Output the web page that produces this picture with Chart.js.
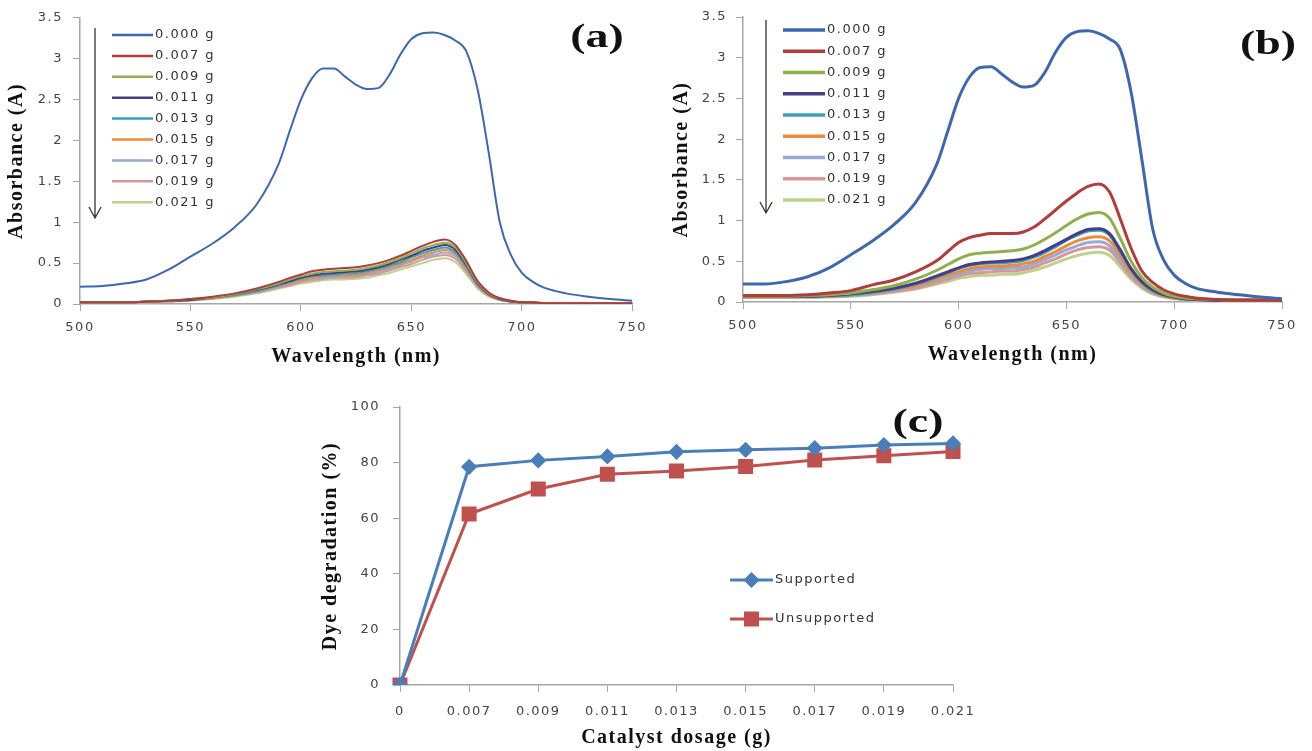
<!DOCTYPE html>
<html>
<head>
<meta charset="utf-8">
<script src="https://cdn.jsdelivr.net/npm/chart.js@4.4.1/dist/chart.umd.min.js"></script>
<style>
  body { margin: 0; background: #fff; width: 1312px; height: 751px; overflow: hidden; position: relative; }
  canvas { position: absolute; }
</style>
</head>
<body>
<canvas id="chartA" width="656" height="380" style="left:0;top:0"></canvas>
<canvas id="chartB" width="656" height="380" style="left:656px;top:0"></canvas>
<canvas id="chartC" width="700" height="371" style="left:310px;top:380px"></canvas>
<script>
// ---- data ----
var wavelengths = [500,510,520,530,540,550,560,570,580,590,595,600,605,610,615,620,625,630,635,640,645,650,655,660,665,670,675,680,685,690,695,700,705,710,720,730,740,750];
var doseLabels = ['0.000 g','0.007 g','0.009 g','0.011 g','0.013 g','0.015 g','0.017 g','0.019 g','0.021 g'];
var doseColors = ['#3d68b0','#b23b3b','#8fb04c','#463d86','#3aa1b8','#f08a34','#97a9d8','#d99696','#bfd28c'];

// panel (a)
var a000 = [0.21,0.22,0.25,0.30,0.42,0.58,0.74,0.94,1.22,1.72,2.12,2.50,2.76,2.88,2.88,2.78,2.68,2.63,2.64,2.80,3.05,3.24,3.31,3.32,3.29,3.22,3.08,2.62,1.85,1.00,0.60,0.38,0.27,0.20,0.13,0.09,0.06,0.04];
var a007 = [0.02,0.02,0.02,0.03,0.04,0.06,0.09,0.13,0.19,0.27,0.32,0.36,0.40,0.42,0.43,0.44,0.45,0.47,0.50,0.54,0.59,0.65,0.71,0.76,0.79,0.72,0.52,0.28,0.14,0.07,0.04,0.02,0.02,0.01,0.01,0.01,0.01,0.01];
var a009 = [0.02,0.02,0.02,0.03,0.04,0.06,0.08,0.12,0.18,0.25,0.30,0.34,0.37,0.39,0.40,0.41,0.42,0.44,0.47,0.51,0.56,0.62,0.68,0.72,0.75,0.69,0.49,0.26,0.13,0.07,0.04,0.02,0.02,0.01,0.01,0.01,0.01,0.01];
var a011 = [0.02,0.02,0.02,0.03,0.04,0.05,0.08,0.12,0.17,0.24,0.28,0.32,0.35,0.37,0.38,0.39,0.40,0.42,0.45,0.49,0.54,0.59,0.65,0.69,0.72,0.66,0.47,0.25,0.12,0.06,0.03,0.02,0.02,0.01,0.01,0.01,0.01,0.01];
var a013 = [0.02,0.02,0.02,0.03,0.04,0.05,0.08,0.11,0.16,0.23,0.27,0.31,0.34,0.35,0.36,0.37,0.38,0.40,0.43,0.47,0.51,0.57,0.62,0.66,0.69,0.63,0.45,0.24,0.12,0.06,0.03,0.02,0.01,0.01,0.01,0.01,0.01,0.01];
var a015 = [0.02,0.02,0.02,0.03,0.04,0.05,0.07,0.11,0.16,0.22,0.26,0.29,0.32,0.34,0.35,0.35,0.36,0.38,0.41,0.45,0.49,0.54,0.59,0.63,0.66,0.61,0.43,0.23,0.11,0.06,0.03,0.02,0.01,0.01,0.01,0.01,0.01,0.01];
var a017 = [0.02,0.02,0.02,0.03,0.03,0.05,0.07,0.10,0.15,0.21,0.25,0.28,0.31,0.32,0.33,0.34,0.35,0.36,0.39,0.43,0.47,0.52,0.57,0.60,0.63,0.58,0.41,0.22,0.11,0.05,0.03,0.02,0.01,0.01,0.01,0.01,0.01,0.01];
var a019 = [0.02,0.02,0.02,0.02,0.03,0.05,0.07,0.10,0.14,0.20,0.23,0.27,0.29,0.31,0.32,0.32,0.33,0.35,0.37,0.41,0.45,0.49,0.54,0.58,0.60,0.55,0.39,0.21,0.10,0.05,0.03,0.02,0.01,0.01,0.01,0.01,0.01,0.01];
var a021 = [0.02,0.02,0.02,0.02,0.03,0.04,0.06,0.09,0.13,0.19,0.22,0.25,0.27,0.29,0.30,0.30,0.31,0.32,0.35,0.38,0.42,0.46,0.50,0.54,0.56,0.51,0.36,0.19,0.09,0.05,0.03,0.02,0.01,0.01,0.01,0.01,0.01,0.01];

// panel (b)
var b000 = [0.22,0.22,0.25,0.31,0.42,0.58,0.75,0.95,1.22,1.70,2.10,2.50,2.76,2.88,2.89,2.80,2.70,2.64,2.66,2.82,3.07,3.25,3.32,3.33,3.30,3.23,3.10,2.58,1.75,0.90,0.52,0.33,0.23,0.17,0.12,0.09,0.06,0.04];
var b007 = [0.08,0.08,0.08,0.09,0.11,0.14,0.21,0.27,0.37,0.51,0.62,0.73,0.79,0.82,0.84,0.84,0.84,0.86,0.92,1.02,1.13,1.24,1.34,1.42,1.45,1.35,1.02,0.66,0.38,0.24,0.15,0.10,0.07,0.05,0.03,0.02,0.02,0.02];
var b009 = [0.07,0.07,0.07,0.08,0.09,0.11,0.15,0.20,0.28,0.39,0.46,0.53,0.58,0.60,0.61,0.62,0.63,0.65,0.70,0.77,0.85,0.94,1.02,1.08,1.10,1.03,0.78,0.50,0.30,0.18,0.11,0.07,0.05,0.04,0.03,0.02,0.02,0.02];
var b011 = [0.07,0.07,0.07,0.07,0.08,0.10,0.13,0.17,0.23,0.32,0.37,0.42,0.46,0.48,0.49,0.50,0.51,0.53,0.57,0.63,0.70,0.77,0.84,0.89,0.90,0.84,0.64,0.41,0.25,0.15,0.09,0.06,0.04,0.03,0.02,0.02,0.02,0.02];
var b013 = [0.07,0.07,0.07,0.07,0.08,0.09,0.12,0.16,0.22,0.31,0.36,0.41,0.45,0.47,0.48,0.48,0.49,0.51,0.55,0.61,0.68,0.76,0.82,0.87,0.88,0.82,0.62,0.40,0.24,0.14,0.09,0.06,0.04,0.03,0.02,0.02,0.02,0.02];
var b015 = [0.06,0.06,0.06,0.07,0.07,0.09,0.11,0.15,0.20,0.28,0.33,0.37,0.41,0.43,0.44,0.44,0.45,0.47,0.50,0.56,0.62,0.69,0.75,0.79,0.80,0.75,0.57,0.36,0.22,0.13,0.08,0.05,0.04,0.03,0.02,0.02,0.02,0.02];
var b017 = [0.06,0.06,0.06,0.06,0.07,0.08,0.10,0.14,0.19,0.26,0.30,0.34,0.38,0.40,0.41,0.41,0.42,0.43,0.47,0.52,0.58,0.64,0.69,0.73,0.74,0.69,0.52,0.33,0.20,0.12,0.07,0.05,0.04,0.03,0.02,0.02,0.02,0.02];
var b019 = [0.06,0.06,0.06,0.06,0.07,0.08,0.10,0.13,0.17,0.24,0.28,0.32,0.35,0.36,0.37,0.38,0.38,0.40,0.43,0.48,0.53,0.59,0.64,0.67,0.68,0.64,0.48,0.31,0.19,0.11,0.07,0.05,0.03,0.03,0.02,0.02,0.02,0.02];
var b021 = [0.06,0.06,0.06,0.06,0.06,0.07,0.09,0.12,0.16,0.22,0.25,0.29,0.31,0.33,0.33,0.34,0.34,0.36,0.39,0.43,0.48,0.53,0.57,0.60,0.61,0.57,0.43,0.28,0.17,0.10,0.06,0.04,0.03,0.02,0.02,0.02,0.02,0.02];

// panel (c)
var dosages = ['0','0.007','0.009','0.011','0.013','0.015','0.017','0.019','0.021'];
var supported = [0, 78.5, 80.8, 82.2, 83.9, 84.6, 85.2, 86.3, 86.9];
var unsupported = [0, 61.5, 70.5, 75.8, 77.0, 78.6, 80.9, 82.5, 84.0];

Chart.defaults.font.family = '"DejaVu Sans", Verdana, sans-serif';
Chart.defaults.animation = false;

// the original text is drawn wide, so space the letters out a bit
var wideText = {
    id: 'wideText',
    beforeUpdate: function (chart) { chart.ctx.letterSpacing = '1.5px'; },
    beforeDraw: function (chart) { chart.ctx.letterSpacing = '1.5px'; }
};

// hand-placed legend, panel letter and arrow
var panelMarks = {
    id: 'panelMarks',
    afterDraw: function (chart, args, opts) {
        var ctx = chart.ctx;
        var lg = opts.legend;
        chart.data.datasets.forEach(function (ds, i) {
            var y = lg.y + i * lg.step;
            ctx.save();
            ctx.strokeStyle = ds.borderColor;
            ctx.lineWidth = lg.lineWidth;
            ctx.beginPath();
            ctx.moveTo(lg.x, y);
            ctx.lineTo(lg.x + lg.len, y);
            ctx.stroke();
            if (lg.markers) {
                ctx.fillStyle = ds.pointBackgroundColor;
                ctx.strokeStyle = ds.pointBorderColor;
                Chart.helpers.drawPoint(ctx, { pointStyle: ds.pointStyle, radius: ds.pointRadius, rotation: 0, borderWidth: 1 }, lg.x + lg.len / 2, y);
            }
            ctx.fillStyle = '#333';
            ctx.font = '13px "DejaVu Sans"';
            ctx.textAlign = 'left';
            ctx.textBaseline = 'middle';
            ctx.fillText(ds.label, lg.x + lg.len + 2, y);
            ctx.restore();
        });

        // panel letter, stretched like the original
        ctx.save();
        ctx.letterSpacing = '0px';
        ctx.translate(opts.tag.x, opts.tag.y);
        ctx.scale(1.35, 1);
        ctx.font = 'bold 34px "Liberation Serif"';
        ctx.fillStyle = '#111';
        ctx.textAlign = 'center';
        ctx.textBaseline = 'middle';
        ctx.fillText(opts.tag.text, 0, 0);
        ctx.restore();

        if (opts.arrow) {
            var ar = opts.arrow;
            ctx.save();
            ctx.strokeStyle = '#333';
            ctx.lineWidth = 1.3;
            ctx.beginPath();
            ctx.moveTo(ar.x, ar.y0);
            ctx.lineTo(ar.x, ar.y1);
            ctx.moveTo(ar.x - 6, ar.y1 - 11);
            ctx.lineTo(ar.x, ar.y1);
            ctx.lineTo(ar.x + 6, ar.y1 - 11);
            ctx.stroke();
            ctx.restore();
        }
    }
};

var axisColor = '#a6a6a6';
var tickFont = { size: 13 };
var titleFont = { family: '"Liberation Serif"', size: 20, weight: 'bold' };

function spectraDatasets(series, width) {
    return series.map(function (vals, i) {
        return {
            label: doseLabels[i],
            data: wavelengths.map(function (w, j) { return { x: w, y: vals[j] }; }),
            borderColor: doseColors[i],
            backgroundColor: doseColors[i],
            borderWidth: width,
            pointRadius: 0,
            cubicInterpolationMode: 'monotone'
        };
    });
}

function spectraOptions(box) {
    return {
        responsive: false,
        layout: { padding: { top: box.top, right: box.right, left: 0, bottom: 0 } },
        plugins: {
            legend: { display: false },
            tooltip: { enabled: false },
            panelMarks: box.marks
        },
        scales: {
            x: {
                type: 'linear', min: 500, max: 750,
                ticks: { stepSize: 50, color: '#444', font: tickFont, padding: 9, maxRotation: 0 },
                grid: { drawOnChartArea: false, tickLength: 7, color: axisColor },
                border: { color: axisColor, width: 1.5 },
                title: { display: true, text: 'Wavelength (nm)', color: '#111', font: titleFont, padding: { top: 0, bottom: box.xTitlePad } },
                afterFit: function (s) { s.height = box.xHeight; }
            },
            y: {
                min: 0, max: 3.5,
                ticks: {
                    stepSize: 0.5, color: '#444', font: tickFont, padding: box.yTickPad,
                    callback: function (v) { return String(v); }
                },
                grid: { drawOnChartArea: false, tickLength: 7, color: axisColor },
                border: { color: axisColor, width: 1.5 },
                title: { display: true, text: 'Absorbance (A)', color: '#111', font: titleFont, padding: { top: box.yTitlePad, bottom: 0 } },
                afterFit: function (s) { s.width = box.yWidth; }
            }
        }
    };
}

new Chart(document.getElementById('chartA').getContext('2d'), {
    type: 'line',
    data: { datasets: spectraDatasets([a000, a007, a009, a011, a013, a015, a017, a019, a021], 2) },
    options: spectraOptions({
        top: 16, right: 23, xHeight: 76, yWidth: 80, xTitlePad: 11, yTitlePad: 5, yTickPad: 10,
        marks: {
            legend: { x: 112, y: 35, step: 20.9, len: 41, lineWidth: 2.5 },
            tag: { text: '(a)', x: 597, y: 38 },
            arrow: { x: 95, y0: 28, y1: 218 }
        }
    }),
    plugins: [wideText, panelMarks]
});

new Chart(document.getElementById('chartB').getContext('2d'), {
    type: 'line',
    data: { datasets: spectraDatasets([b000, b007, b009, b011, b013, b015, b017, b019, b021], 3) },
    options: spectraOptions({
        top: 17, right: 30, xHeight: 78, yWidth: 87, xTitlePad: 13, yTitlePad: 14, yTickPad: 9,
        marks: {
            legend: { x: 127, y: 30, step: 21.25, len: 42, lineWidth: 3.5 },
            tag: { text: '(b)', x: 612, y: 45 },
            arrow: { x: 110, y0: 20, y1: 213 }
        }
    }),
    plugins: [wideText, panelMarks]
});

new Chart(document.getElementById('chartC').getContext('2d'), {
    type: 'line',
    data: {
        labels: dosages,
        datasets: [{
            label: 'Supported',
            data: supported,
            borderColor: '#4a7ebb',
            borderWidth: 3,
            pointStyle: 'rectRot',
            pointRadius: 6,
            pointBackgroundColor: '#4a7ebb',
            pointBorderColor: '#4a7ebb',
            tension: 0
        }, {
            label: 'Unsupported',
            data: unsupported,
            borderColor: '#c0504d',
            borderWidth: 3,
            pointStyle: 'rect',
            pointRadius: 8.5,
            pointBackgroundColor: '#c0504d',
            pointBorderColor: '#c0504d',
            tension: 0
        }]
    },
    options: {
        responsive: false,
        layout: { padding: { top: 27, right: 57, left: 0, bottom: 0 } },
        plugins: {
            legend: { display: false },
            tooltip: { enabled: false },
            panelMarks: {
                legend: { x: 420, y: 200, step: 39, len: 43, lineWidth: 3, markers: true },
                tag: { text: '(c)', x: 608, y: 43 }
            }
        },
        scales: {
            x: {
                offset: false,
                ticks: { color: '#444', font: tickFont, padding: 12, maxRotation: 0, autoSkip: false },
                grid: { drawOnChartArea: false, tickLength: 7, color: axisColor, offset: false },
                border: { color: axisColor, width: 1.5 },
                title: { display: true, text: 'Catalyst dosage (g)', color: '#111', font: titleFont, padding: { top: 0, bottom: 1 } },
                afterFit: function (s) { s.height = 66; }
            },
            y: {
                min: 0, max: 100,
                ticks: { stepSize: 20, color: '#444', font: tickFont, padding: 13 },
                grid: { drawOnChartArea: false, tickLength: 7, color: axisColor },
                border: { color: axisColor, width: 1.5 },
                title: { display: true, text: 'Dye degradation (%)', color: '#111', font: titleFont, padding: { top: 9, bottom: 0 } },
                afterFit: function (s) { s.width = 90; }
            }
        }
    },
    plugins: [wideText, panelMarks]
});
</script>
</body>
</html>
